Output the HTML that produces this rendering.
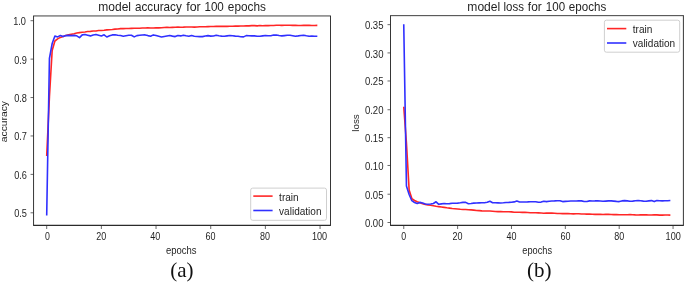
<!DOCTYPE html>
<html><head><meta charset="utf-8"><title>model accuracy / loss</title>
<style>html,body{margin:0;padding:0;background:#fff;overflow:hidden}svg{display:block;filter:blur(0.45px)}</style></head>
<body>
<svg width="685" height="283" viewBox="0 0 685 283">
<rect width="685" height="283" fill="#fff"/>
<g font-family="Liberation Sans, sans-serif" fill="#1f1f1f" stroke="none">
<line x1="46.70" y1="225.3" x2="46.70" y2="229.0" stroke="#444" stroke-width="0.8"/>
<text x="47.40" y="239.5" font-size="10.2" text-anchor="middle" textLength="4.9" lengthAdjust="spacingAndGlyphs">0</text>
<line x1="101.37" y1="225.3" x2="101.37" y2="229.0" stroke="#444" stroke-width="0.8"/>
<text x="101.20" y="239.5" font-size="10.2" text-anchor="middle" textLength="10.0" lengthAdjust="spacingAndGlyphs">20</text>
<line x1="156.04" y1="225.3" x2="156.04" y2="229.0" stroke="#444" stroke-width="0.8"/>
<text x="155.30" y="239.5" font-size="10.2" text-anchor="middle" textLength="10.0" lengthAdjust="spacingAndGlyphs">40</text>
<line x1="210.72" y1="225.3" x2="210.72" y2="229.0" stroke="#444" stroke-width="0.8"/>
<text x="210.40" y="239.5" font-size="10.2" text-anchor="middle" textLength="10.0" lengthAdjust="spacingAndGlyphs">60</text>
<line x1="265.39" y1="225.3" x2="265.39" y2="229.0" stroke="#444" stroke-width="0.8"/>
<text x="265.00" y="239.5" font-size="10.2" text-anchor="middle" textLength="10.0" lengthAdjust="spacingAndGlyphs">80</text>
<line x1="320.06" y1="225.3" x2="320.06" y2="229.0" stroke="#444" stroke-width="0.8"/>
<text x="319.50" y="239.5" font-size="10.2" text-anchor="middle" textLength="15.2" lengthAdjust="spacingAndGlyphs">100</text>
<line x1="30.549999999999997" y1="20.70" x2="33.55" y2="20.70" stroke="#444" stroke-width="0.8"/>
<text x="25.95" y="25.40" font-size="10.2" text-anchor="end" textLength="12.8" lengthAdjust="spacingAndGlyphs">1.0</text>
<line x1="30.549999999999997" y1="59.12" x2="33.55" y2="59.12" stroke="#444" stroke-width="0.8"/>
<text x="26.95" y="63.82" font-size="10.2" text-anchor="end" textLength="12.8" lengthAdjust="spacingAndGlyphs">0.9</text>
<line x1="30.549999999999997" y1="97.54" x2="33.55" y2="97.54" stroke="#444" stroke-width="0.8"/>
<text x="26.95" y="101.94" font-size="10.2" text-anchor="end" textLength="12.8" lengthAdjust="spacingAndGlyphs">0.8</text>
<line x1="30.549999999999997" y1="135.96" x2="33.55" y2="135.96" stroke="#444" stroke-width="0.8"/>
<text x="26.95" y="140.06" font-size="10.2" text-anchor="end" textLength="12.8" lengthAdjust="spacingAndGlyphs">0.7</text>
<line x1="30.549999999999997" y1="174.38" x2="33.55" y2="174.38" stroke="#444" stroke-width="0.8"/>
<text x="26.95" y="178.68" font-size="10.2" text-anchor="end" textLength="12.8" lengthAdjust="spacingAndGlyphs">0.6</text>
<line x1="30.549999999999997" y1="212.80" x2="33.55" y2="212.80" stroke="#444" stroke-width="0.8"/>
<text x="26.95" y="216.86" font-size="10.2" text-anchor="end" textLength="12.8" lengthAdjust="spacingAndGlyphs">0.5</text>
<text x="98.30" y="10.6" font-size="12.2" textLength="32.74" lengthAdjust="spacingAndGlyphs">model</text>
<text x="135.00" y="10.6" font-size="12.2" textLength="46.80" lengthAdjust="spacingAndGlyphs">accuracy</text>
<text x="186.20" y="10.6" font-size="12.2" textLength="14.50" lengthAdjust="spacingAndGlyphs">for</text>
<text x="204.45" y="10.6" font-size="12.2" textLength="19.40" lengthAdjust="spacingAndGlyphs">100</text>
<text x="227.85" y="10.6" font-size="12.2" textLength="38.10" lengthAdjust="spacingAndGlyphs">epochs</text>
<text x="181.30" y="253.8" font-size="10.2" text-anchor="middle" textLength="30.6" lengthAdjust="spacingAndGlyphs">epochs</text>
<text transform="translate(7.0,121.6) rotate(-90)" font-size="9.3" text-anchor="middle" textLength="41.2" lengthAdjust="spacingAndGlyphs">accuracy</text>
<line x1="403.75" y1="225.3" x2="403.75" y2="229.0" stroke="#444" stroke-width="0.8"/>
<text x="403.60" y="239.5" font-size="10.2" text-anchor="middle" textLength="4.9" lengthAdjust="spacingAndGlyphs">0</text>
<line x1="457.61" y1="225.3" x2="457.61" y2="229.0" stroke="#444" stroke-width="0.8"/>
<text x="457.50" y="239.5" font-size="10.2" text-anchor="middle" textLength="10.0" lengthAdjust="spacingAndGlyphs">20</text>
<line x1="511.47" y1="225.3" x2="511.47" y2="229.0" stroke="#444" stroke-width="0.8"/>
<text x="511.40" y="239.5" font-size="10.2" text-anchor="middle" textLength="10.0" lengthAdjust="spacingAndGlyphs">40</text>
<line x1="565.33" y1="225.3" x2="565.33" y2="229.0" stroke="#444" stroke-width="0.8"/>
<text x="565.50" y="239.5" font-size="10.2" text-anchor="middle" textLength="10.0" lengthAdjust="spacingAndGlyphs">60</text>
<line x1="619.19" y1="225.3" x2="619.19" y2="229.0" stroke="#444" stroke-width="0.8"/>
<text x="619.20" y="239.5" font-size="10.2" text-anchor="middle" textLength="10.0" lengthAdjust="spacingAndGlyphs">80</text>
<line x1="673.05" y1="225.3" x2="673.05" y2="229.0" stroke="#444" stroke-width="0.8"/>
<text x="673.20" y="239.5" font-size="10.2" text-anchor="middle" textLength="15.2" lengthAdjust="spacingAndGlyphs">100</text>
<line x1="387.5" y1="24.65" x2="390.5" y2="24.65" stroke="#444" stroke-width="0.8"/>
<text x="383.50" y="29.35" font-size="10.2" text-anchor="end" textLength="18.6" lengthAdjust="spacingAndGlyphs">0.35</text>
<line x1="387.5" y1="52.91" x2="390.5" y2="52.91" stroke="#444" stroke-width="0.8"/>
<text x="383.50" y="57.61" font-size="10.2" text-anchor="end" textLength="18.6" lengthAdjust="spacingAndGlyphs">0.30</text>
<line x1="387.5" y1="80.98" x2="390.5" y2="80.98" stroke="#444" stroke-width="0.8"/>
<text x="383.50" y="85.38" font-size="10.2" text-anchor="end" textLength="18.6" lengthAdjust="spacingAndGlyphs">0.25</text>
<line x1="387.5" y1="109.74" x2="390.5" y2="109.74" stroke="#444" stroke-width="0.8"/>
<text x="383.50" y="114.14" font-size="10.2" text-anchor="end" textLength="18.6" lengthAdjust="spacingAndGlyphs">0.20</text>
<line x1="387.5" y1="137.70" x2="390.5" y2="137.70" stroke="#444" stroke-width="0.8"/>
<text x="383.50" y="142.40" font-size="10.2" text-anchor="end" textLength="18.6" lengthAdjust="spacingAndGlyphs">0.15</text>
<line x1="387.5" y1="165.47" x2="390.5" y2="165.47" stroke="#444" stroke-width="0.8"/>
<text x="383.50" y="169.77" font-size="10.2" text-anchor="end" textLength="18.6" lengthAdjust="spacingAndGlyphs">0.10</text>
<line x1="387.5" y1="194.23" x2="390.5" y2="194.23" stroke="#444" stroke-width="0.8"/>
<text x="383.50" y="198.93" font-size="10.2" text-anchor="end" textLength="18.6" lengthAdjust="spacingAndGlyphs">0.05</text>
<line x1="387.5" y1="222.50" x2="390.5" y2="222.50" stroke="#444" stroke-width="0.8"/>
<text x="383.50" y="227.20" font-size="10.2" text-anchor="end" textLength="18.6" lengthAdjust="spacingAndGlyphs">0.00</text>
<text x="467.35" y="10.6" font-size="12.2" textLength="32.90" lengthAdjust="spacingAndGlyphs">model</text>
<text x="503.50" y="10.6" font-size="12.2" textLength="20.45" lengthAdjust="spacingAndGlyphs">loss</text>
<text x="527.85" y="10.6" font-size="12.2" textLength="13.85" lengthAdjust="spacingAndGlyphs">for</text>
<text x="545.85" y="10.6" font-size="12.2" textLength="19.30" lengthAdjust="spacingAndGlyphs">100</text>
<text x="568.80" y="10.6" font-size="12.2" textLength="37.40" lengthAdjust="spacingAndGlyphs">epochs</text>
<text x="537.20" y="253.8" font-size="10.2" text-anchor="middle" textLength="29.7" lengthAdjust="spacingAndGlyphs">epochs</text>
<text transform="translate(358.6,123.0) rotate(-90)" font-size="9.3" text-anchor="middle" textLength="17.4" lengthAdjust="spacingAndGlyphs">loss</text>
</g>
<g fill="none" stroke-width="1.6" stroke-linejoin="round" stroke-linecap="butt">
<polyline points="46.70,156.00 49.43,97.00 52.17,50.50 54.90,41.00 57.63,38.90 60.37,37.40 63.10,36.50 65.84,35.60 68.57,34.80 71.30,34.22 74.04,33.67 76.77,33.02 79.50,32.60 82.24,32.24 84.97,32.02 87.70,31.53 90.44,31.33 93.17,31.06 95.90,30.98 98.64,30.57 101.37,30.46 104.11,30.27 106.84,29.88 109.57,29.76 112.31,29.53 115.04,29.13 117.77,29.02 120.51,28.61 123.24,28.59 125.97,28.47 128.71,28.54 131.44,28.38 134.18,28.20 136.91,28.27 139.64,28.28 142.38,28.03 145.11,27.93 147.84,27.92 150.58,28.05 153.31,27.99 156.04,27.81 158.78,27.83 161.51,27.73 164.24,27.50 166.98,27.32 169.71,27.46 172.45,27.38 175.18,27.26 177.91,27.17 180.65,27.19 183.38,27.17 186.11,27.05 188.85,27.01 191.58,27.03 194.31,27.13 197.05,26.97 199.78,26.79 202.52,26.73 205.25,26.73 207.98,26.58 210.72,26.51 213.45,26.56 216.18,26.34 218.92,26.42 221.65,26.31 224.38,26.37 227.12,26.34 229.85,26.27 232.58,26.22 235.32,26.05 238.05,26.11 240.79,25.94 243.52,25.98 246.25,25.84 248.99,25.83 251.72,25.64 254.45,25.66 257.19,25.88 259.92,25.57 262.65,25.70 265.39,25.64 268.12,25.62 270.86,25.49 273.59,25.52 276.32,25.32 279.06,25.31 281.79,25.34 284.52,25.31 287.26,25.28 289.99,25.28 292.72,25.42 295.46,25.28 298.19,25.54 300.92,25.43 303.66,25.37 306.39,25.42 309.13,25.25 311.86,25.48 314.59,25.43 317.33,25.38" stroke="#ff2626"/>
<polyline points="46.70,215.60 49.43,58.50 52.17,43.50 54.90,36.00 57.63,36.90 60.37,35.50 63.10,36.60 65.84,35.60 68.57,35.40 71.30,35.60 74.04,35.40 76.77,35.80 79.50,37.60 82.24,34.90 84.97,34.50 87.70,35.20 90.44,35.90 93.17,35.00 95.90,34.50 98.64,35.20 101.37,35.90 104.11,34.80 106.84,37.00 109.57,35.80 112.31,34.90 115.04,34.80 117.77,35.20 120.51,35.50 123.24,36.20 125.97,35.70 128.71,35.30 131.44,35.20 134.18,36.90 136.91,35.60 139.64,35.30 142.38,35.00 145.11,34.90 147.84,35.60 150.58,36.20 153.31,34.90 156.04,35.60 158.78,36.30 161.51,37.00 164.24,36.50 166.98,36.00 169.71,35.50 172.45,36.10 175.18,36.60 177.91,35.50 180.65,35.90 183.38,35.20 186.11,35.80 188.85,36.30 191.58,35.50 194.31,36.30 197.05,36.50 199.78,36.60 202.52,36.60 205.25,36.00 207.98,35.60 210.72,36.10 213.45,36.00 216.18,35.20 218.92,35.70 221.65,36.10 224.38,36.30 227.12,35.90 229.85,35.50 232.58,35.80 235.32,36.10 238.05,36.30 240.79,36.70 243.52,36.90 246.25,35.60 248.99,35.70 251.72,35.90 254.45,35.90 257.19,36.20 259.92,36.30 262.65,35.90 265.39,35.50 268.12,35.80 270.86,35.80 273.59,35.10 276.32,35.00 279.06,35.50 281.79,35.90 284.52,35.60 287.26,35.30 289.99,35.20 292.72,35.70 295.46,36.20 298.19,35.90 300.92,35.50 303.66,35.20 306.39,35.80 309.13,36.30 311.86,36.10 314.59,36.20 317.33,36.20" stroke="#3030ff"/>
<polyline points="403.75,106.70 406.44,143.00 409.14,190.00 411.83,198.60 414.52,200.50 417.21,201.80 419.91,202.80 422.60,203.70 425.29,204.40 427.99,205.00 430.68,205.30 433.37,205.70 436.07,206.20 438.76,206.60 441.45,207.00 444.14,207.40 446.84,207.80 449.53,208.09 452.22,208.50 454.92,208.77 457.61,209.05 460.30,209.32 463.00,209.44 465.69,209.56 468.38,209.82 471.07,209.91 473.77,210.09 476.46,210.43 479.15,210.63 481.85,210.86 484.54,211.01 487.23,211.03 489.93,211.02 492.62,211.26 495.31,211.51 498.00,211.59 500.70,211.60 503.39,211.69 506.08,211.72 508.78,211.80 511.47,211.87 514.16,212.22 516.86,212.24 519.55,212.19 522.24,212.37 524.93,212.36 527.63,212.49 530.32,212.73 533.01,212.79 535.71,212.81 538.40,212.83 541.09,213.03 543.79,213.20 546.48,213.12 549.17,213.09 551.87,213.17 554.56,213.23 557.25,213.56 559.94,213.49 562.64,213.64 565.33,213.50 568.02,213.59 570.72,213.78 573.41,213.90 576.10,213.79 578.80,213.77 581.49,214.07 584.18,213.96 586.87,214.15 589.57,214.04 592.26,214.26 594.95,214.34 597.65,214.35 600.34,214.28 603.03,214.43 605.73,214.29 608.42,214.38 611.11,214.46 613.80,214.63 616.50,214.46 619.19,214.71 621.88,214.73 624.58,214.82 627.27,214.68 629.96,214.67 632.65,214.72 635.35,214.92 638.04,214.98 640.73,214.92 643.43,214.87 646.12,214.84 648.81,215.02 651.51,215.05 654.20,214.84 656.89,214.89 659.59,215.10 662.28,215.13 664.97,214.99 667.66,215.01 670.36,215.08" stroke="#ff2626"/>
<polyline points="403.75,24.30 406.44,186.00 409.14,194.50 411.83,200.70 414.52,202.50 417.21,203.50 419.91,202.40 422.60,203.00 425.29,204.00 427.99,204.30 430.68,204.00 433.37,203.50 436.07,201.80 438.76,204.30 441.45,203.90 444.14,203.50 446.84,203.70 449.53,203.60 452.22,203.30 454.92,203.20 457.61,203.10 460.30,202.80 463.00,202.40 465.69,202.40 468.38,203.80 471.07,203.50 473.77,203.10 476.46,203.00 479.15,202.90 481.85,202.80 484.54,202.70 487.23,202.30 489.93,201.30 492.62,202.70 495.31,202.80 498.00,202.90 500.70,203.00 503.39,202.80 506.08,202.50 508.78,202.40 511.47,202.20 514.16,201.90 516.86,201.00 519.55,202.00 522.24,202.00 524.93,202.00 527.63,201.90 530.32,201.70 533.01,201.70 535.71,201.80 538.40,202.30 541.09,202.10 543.79,201.30 546.48,201.60 549.17,201.30 551.87,201.00 554.56,200.90 557.25,200.70 559.94,200.70 562.64,201.60 565.33,201.40 568.02,201.20 570.72,201.00 573.41,201.00 576.10,201.00 578.80,200.90 581.49,200.90 584.18,201.50 586.87,201.50 589.57,200.90 592.26,201.00 594.95,200.90 597.65,200.70 600.34,201.00 603.03,201.30 605.73,201.10 608.42,200.90 611.11,200.90 613.80,201.10 616.50,201.40 619.19,201.60 621.88,200.90 624.58,200.60 627.27,200.90 629.96,201.30 632.65,201.10 635.35,200.80 638.04,200.60 640.73,200.80 643.43,201.10 646.12,201.30 648.81,200.90 651.51,200.60 654.20,201.60 656.89,200.60 659.59,200.80 662.28,200.90 664.97,200.80 667.66,200.70 670.36,200.50" stroke="#3030ff"/>
</g>
<path d="M33.15,15.95H330.9" fill="none" stroke="#2a2a2a" stroke-width="0.9"/>
<path d="M33.15,225.3H330.9" fill="none" stroke="#2b2b2b" stroke-width="1.15"/>
<path d="M33.55,15.95V225.3M330.5,15.95V225.3" fill="none" stroke="#2b2b2b" stroke-width="0.95"/>
<path d="M390.1,15.65H683.8" fill="none" stroke="#2a2a2a" stroke-width="0.9"/>
<path d="M390.1,225.3H683.8" fill="none" stroke="#2b2b2b" stroke-width="1.15"/>
<path d="M390.5,15.65V225.3M683.4,15.65V225.3" fill="none" stroke="#2b2b2b" stroke-width="0.95"/>
<rect x="250.7" y="188.1" width="75.8" height="32.2" rx="2" ry="2" fill="#fff" fill-opacity="0.8" stroke="#cfcfcf" stroke-width="1"/>
<line x1="253.29999999999998" y1="196.1" x2="272.59999999999997" y2="196.1" stroke="#ff2626" stroke-width="1.6"/>
<line x1="253.29999999999998" y1="210.5" x2="272.59999999999997" y2="210.5" stroke="#3030ff" stroke-width="1.6"/>
<g font-family="Liberation Sans, sans-serif" fill="#1f1f1f" font-size="10.2">
<text x="279.09999999999997" y="201.00" textLength="19.6" lengthAdjust="spacingAndGlyphs">train</text>
<text x="279.09999999999997" y="214.85" textLength="42.4" lengthAdjust="spacingAndGlyphs">validation</text>
</g>
<rect x="604.4" y="20.2" width="75.3" height="32.0" rx="2" ry="2" fill="#fff" fill-opacity="0.8" stroke="#cfcfcf" stroke-width="1"/>
<line x1="607.0" y1="28.599999999999998" x2="626.3" y2="28.599999999999998" stroke="#ff2626" stroke-width="1.6"/>
<line x1="607.0" y1="42.99999999999999" x2="626.3" y2="42.99999999999999" stroke="#3030ff" stroke-width="1.6"/>
<g font-family="Liberation Sans, sans-serif" fill="#1f1f1f" font-size="10.2">
<text x="632.8" y="33.10" textLength="19.6" lengthAdjust="spacingAndGlyphs">train</text>
<text x="632.8" y="46.95" textLength="42.4" lengthAdjust="spacingAndGlyphs">validation</text>
</g>
<g font-family="Liberation Serif, serif" fill="#111" font-size="21" text-anchor="middle">
<text x="181.8" y="277.3">(a)</text>
<text x="539.2" y="277.3">(b)</text>
</g>
</svg>
</body></html>
